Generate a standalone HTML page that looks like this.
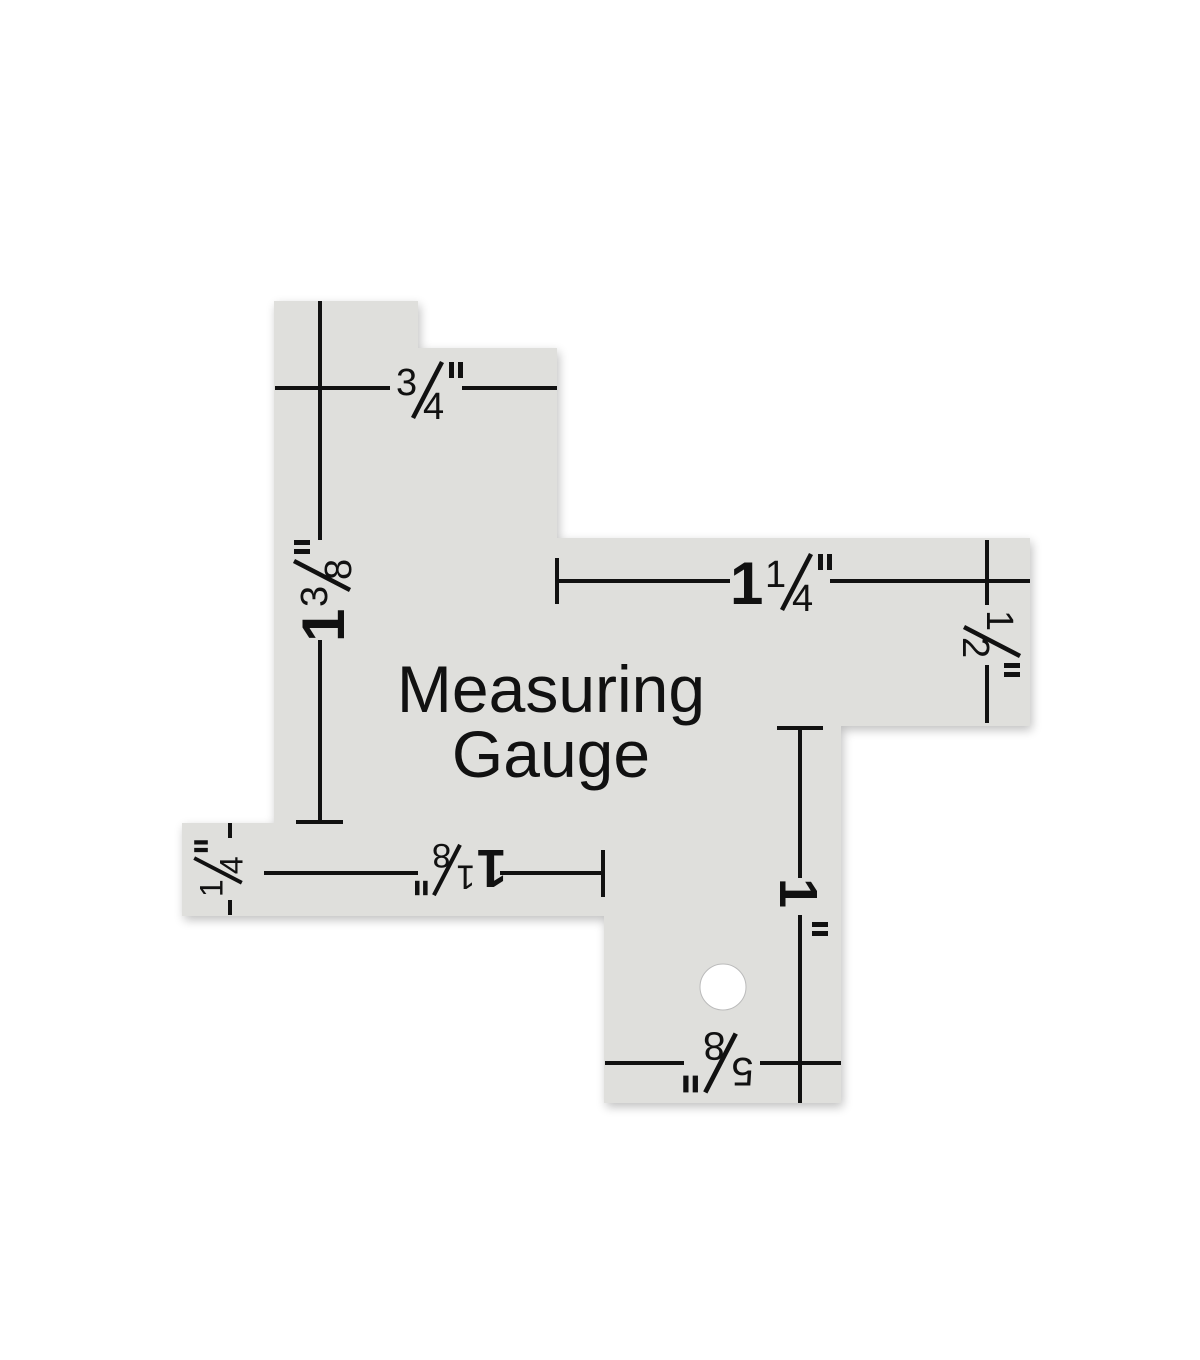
<!DOCTYPE html>
<html><head><meta charset="utf-8"><style>
html,body{margin:0;padding:0;background:#fff;width:1200px;height:1360px;overflow:hidden}
svg{display:block}
text{font-family:"Liberation Sans",Arial,sans-serif;fill:#111}
</style></head><body>
<svg width="1200" height="1360" viewBox="0 0 1200 1360" xmlns="http://www.w3.org/2000/svg">
<defs>
<filter id="sh" x="-10%" y="-10%" width="120%" height="120%">
<feGaussianBlur in="SourceAlpha" stdDeviation="5"/>
<feOffset dx="2" dy="4"/>
<feComponentTransfer><feFuncA type="linear" slope="0.25"/></feComponentTransfer>
<feMerge><feMergeNode/><feMergeNode in="SourceGraphic"/></feMerge>
</filter>
<g id="q"><rect x="21" y="-28" width="5" height="16" fill="#111"/><rect x="30" y="-28" width="5" height="16" fill="#111"/></g>
<line id="sl" x1="-15" y1="28" x2="14" y2="-28" stroke="#111" stroke-width="4.5"/>
</defs>
<path filter="url(#sh)" fill="#dfdfdc" fill-rule="evenodd" d="M274,301 L418,301 L418,348 L557,348 L557,538 L1030,538 L1030,726 L841,726 L841,1103 L604,1103 L604,916 L182,916 L182,823 L274,823 Z M746,987 a23,23 0 1 0 -46,0 a23,23 0 1 0 46,0 Z"/>
<g stroke="#111" stroke-width="4" fill="none">
<line x1="320" y1="301" x2="320" y2="540"/>
<line x1="320" y1="640" x2="320" y2="822"/>
<line x1="296" y1="822" x2="343" y2="822"/>
<line x1="275" y1="388" x2="390" y2="388"/>
<line x1="462" y1="388" x2="557" y2="388"/>
<line x1="557" y1="558" x2="557" y2="604"/>
<line x1="557" y1="581" x2="730" y2="581"/>
<line x1="830" y1="581" x2="1030" y2="581"/>
<line x1="987" y1="540" x2="987" y2="605"/>
<line x1="987" y1="665" x2="987" y2="723"/>
<line x1="230" y1="823" x2="230" y2="838"/>
<line x1="230" y1="900" x2="230" y2="915"/>
<line x1="264" y1="873" x2="418" y2="873"/>
<line x1="500" y1="873" x2="603" y2="873"/>
<line x1="603" y1="850" x2="603" y2="897"/>
<line x1="777" y1="728" x2="823" y2="728"/>
<line x1="800" y1="728" x2="800" y2="878"/>
<line x1="800" y1="915" x2="800" y2="1103"/>
<line x1="605" y1="1063" x2="684" y2="1063"/>
<line x1="760" y1="1063" x2="841" y2="1063"/>
</g>
<circle cx="723" cy="987" r="23" fill="#fff" stroke="#bbb" stroke-width="1"/>
<text x="551" y="712" font-size="66" text-anchor="middle">Measuring</text>
<text x="551" y="777" font-size="66" text-anchor="middle">Gauge</text>

<g transform="translate(428,390)">
<text x="-32" y="5" font-size="38">3</text><use href="#sl"/><text x="-5" y="29" font-size="38">4</text><use href="#q"/>
</g>
<g transform="translate(992,642) rotate(90)">
<text x="-32" y="5" font-size="38">1</text><use href="#sl"/><text x="-5" y="29" font-size="38">2</text><use href="#q"/>
</g>
<g transform="translate(218,870) rotate(-90) scale(0.85)">
<text x="-32" y="5" font-size="38">1</text><use href="#sl"/><text x="-5" y="29" font-size="38">4</text><use href="#q"/>
</g>
<g transform="translate(720,1063) rotate(180) scale(1.05)">
<text x="-32" y="5" font-size="38">5</text><use href="#sl"/><text x="-5" y="29" font-size="38">8</text><use href="#q"/>
</g>
<g transform="translate(782,582)">
<text x="-52" y="22" font-size="60" font-weight="bold">1</text>
<g transform="translate(15,0)"><text x="-32" y="5" font-size="38">1</text><use href="#sl"/><text x="-5" y="29" font-size="38">4</text><use href="#q"/></g>
</g>
<g transform="translate(322,590) rotate(-90)">
<text x="-52" y="22" font-size="60" font-weight="bold">1</text>
<g transform="translate(15,0)"><text x="-32" y="5" font-size="38">3</text><use href="#sl"/><text x="-5" y="29" font-size="38">8</text><use href="#q"/></g>
</g>
<g transform="translate(460,870) rotate(180) scale(0.9)">
<text x="-52" y="22" font-size="60" font-weight="bold">1</text>
<g transform="translate(15,0)"><text x="-32" y="5" font-size="38">1</text><use href="#sl"/><text x="-5" y="29" font-size="38">8</text><use href="#q"/></g>
</g>
<text transform="translate(780,893) rotate(90)" font-size="54" font-weight="bold" text-anchor="middle">1</text>
<rect x="812" y="922" width="16" height="5" fill="#111"/>
<rect x="812" y="931" width="16" height="5" fill="#111"/>
</svg>
</body></html>
